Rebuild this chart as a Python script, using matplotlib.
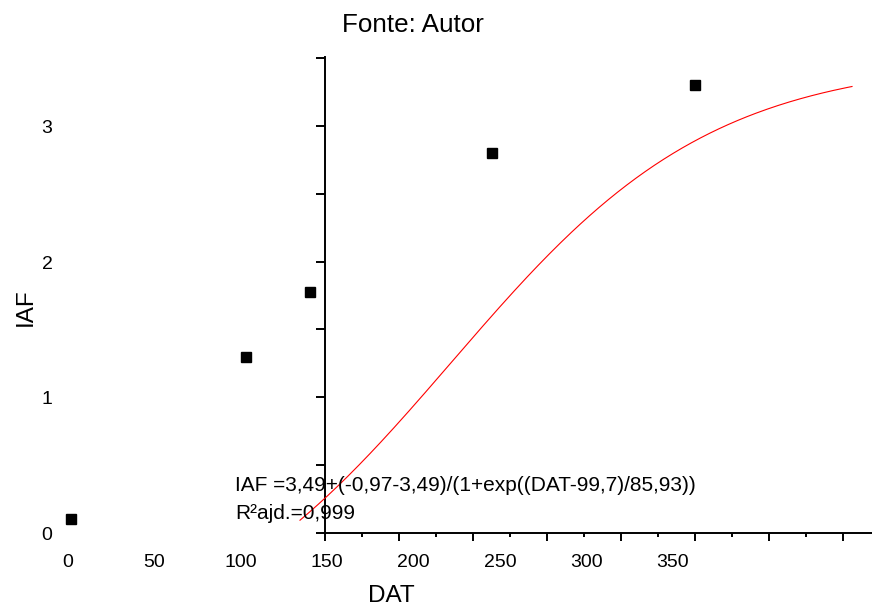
import numpy as np
import matplotlib.pyplot as plt
from matplotlib import transforms
from matplotlib.ticker import MultipleLocator

plt.rcParams['font.family'] = ['Liberation Sans', 'DejaVu Sans']

# pontos observados
dat = [2, 103, 140, 245, 363]
iaf = [0.10, 1.30, 1.78, 2.80, 3.30]

# rótulos dos eixos
x_labels = [0, 50, 100, 150, 200, 250, 300, 350]
y_labels = [0, 1, 2, 3]

# ajuste logístico (Boltzmann)
a1, a2, x0, dx = -0.97, 3.49, 99.7, 85.93
dat_fit = np.linspace(0, 363, 300)
iaf_fit = a2 + (a1 - a2) / (1 + np.exp((dat_fit - x0) / dx))

eq_text = 'IAF =3,49+(-0,97-3,49)/(1+exp((DAT-99,7)/85,93))'
r2_text = 'R\u00b2ajd.=0,999'

W, H = 872, 606
fig = plt.figure(figsize=(W / 100, H / 100), dpi=100)


def px(x, y):
    return x / W, 1 - y / H


# eixo principal (só linhas e marcas)
ax = fig.add_axes([325 / W, (H - 533) / H, 547 / W, 476 / H])
ax.set_ylim(0, 476 / 135.67)
ax.set_xlim(150, 150 + 547 / 74.0 * 50)
ax.xaxis.set_major_locator(MultipleLocator(50))
ax.xaxis.set_minor_locator(MultipleLocator(25))
ax.yaxis.set_major_locator(MultipleLocator(1))
ax.yaxis.set_minor_locator(MultipleLocator(0.5))
for s in ['top', 'right']:
    ax.spines[s].set_visible(False)
for s in ['left', 'bottom']:
    ax.spines[s].set_linewidth(1.4)

# eixo dos pontos e rótulos
ax_lab = ax.twiny()
ax_lab.set_xlim((325 - 68) / 1.7286, (872 - 68) / 1.7286)
# eixo da curva ajustada
ax_fit = ax.twiny()
ax_fit.set_xlim((325 - 300) / 1.5207, (872 - 300) / 1.5207)
for a in (ax_lab, ax_fit):
    a.xaxis.set_visible(False)
    for s in a.spines.values():
        s.set_visible(False)

ax.tick_params(which='both', direction='out', width=1.4, color='black',
               labelbottom=False, labelleft=False, top=False, right=False)
ax.tick_params(axis='x', which='major', length=5.5)
ax.tick_params(axis='x', which='minor', length=3.1)
ax.tick_params(axis='y', which='both', length=6.5)

ax_lab.plot(dat, iaf, 's', color='black', markersize=7.2, clip_on=False)
ax_fit.plot(dat_fit, iaf_fit, color='red', linewidth=0.8, clip_on=False)

# rótulos do eixo x
for v in x_labels:
    ax_lab.text(v, -(566.7 - 533) / 476, str(v), transform=ax_lab.get_xaxis_transform(),
                ha='center', va='baseline', fontsize=14)

# rótulos do eixo y
ytrans = transforms.blended_transform_factory(fig.transFigure, ax.transData) + \
    transforms.ScaledTranslation(0, -0.358 * 14 / 72, fig.dpi_scale_trans)
for v in y_labels:
    fig.text(47 / W, v, str(v), transform=ytrans, ha='center', va='baseline', fontsize=14)

fig.text(*px(342, 31.7), 'Fonte: Autor', fontsize=18.7, ha='left', va='baseline')
fig.text(*px(391.7, 602.5), 'DAT', fontsize=17.5, ha='center', va='baseline')
fig.text(*px(31.7, 306.7), 'IAF', fontsize=17.5, rotation=90, rotation_mode='anchor',
         ha='center', va='baseline')
fig.text(*px(235, 490.7), eq_text, fontsize=15, ha='left', va='baseline')
fig.text(*px(235, 519), r2_text, fontsize=15, ha='left', va='baseline')

fig.savefig('out.png', dpi=100)
